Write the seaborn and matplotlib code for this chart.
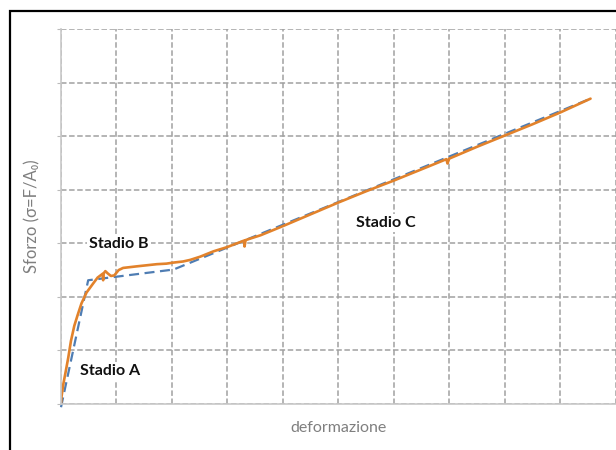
import matplotlib
matplotlib.use('Agg')
import matplotlib.pyplot as plt
from matplotlib.patches import Rectangle
import seaborn as sns

# curva sperimentale (arancione) e modello trilineare (blu tratteggiato)
misura_x = [0, 0.01, 0.04, 0.08, 0.13, 0.18, 0.24, 0.30, 0.37, 0.46, 0.58, 0.66,
            0.75, 0.76, 0.77, 0.80, 0.84, 0.90, 0.96, 1.04, 1.12, 1.37, 1.55,
            1.73, 1.90, 2.03, 2.20, 2.33, 2.51, 2.75, 3.00, 3.20, 3.30, 3.31,
            3.33, 3.60, 4.00, 4.50, 5.00, 5.50, 6.00, 6.50, 6.95, 6.97, 7.00,
            7.50, 8.00, 8.50, 9.00, 9.55]
misura_y = [0, 0.14, 0.36, 0.58, 0.86, 1.18, 1.46, 1.66, 1.88, 2.08, 2.25, 2.36,
            2.43, 2.31, 2.44, 2.48, 2.44, 2.39, 2.40, 2.50, 2.54, 2.57, 2.59,
            2.61, 2.62, 2.64, 2.66, 2.69, 2.75, 2.85, 2.93, 3.01, 3.05, 2.94,
            3.06, 3.15, 3.32, 3.54, 3.76, 3.97, 4.17, 4.38, 4.57, 4.49, 4.58,
            4.80, 5.01, 5.22, 5.44, 5.70]

modello_x = [0, 0.49, 2.03, 9.55]
modello_y = [-0.06, 2.31, 2.51, 5.70]

etichette = ['Stadio A', 'Stadio B', 'Stadio C']
etichette_x = [0.89, 1.05, 5.85]
etichette_y = [0.62, 2.99, 3.38]

sns.set_style('white')
plt.rcParams['font.family'] = ['Lato', 'DejaVu Sans']

fig = plt.figure(figsize=(6.16, 4.5), dpi=100)
ax = fig.add_axes([61 / 616, 1 - 404 / 450, 554.5 / 616, 375 / 450])

# cornice nera esterna
fig.patches.append(Rectangle((10 / 616, -0.1), 1.2, 1 - 11 / 450 + 0.1,
                             transform=fig.transFigure, fill=False,
                             edgecolor='black', linewidth=1.6))

sns.lineplot(x=modello_x, y=modello_y, ax=ax, color='#4F7DB3', linewidth=1.6,
             dashes=False, sort=False, estimator=None, clip_on=False)
ax.lines[-1].set_dashes((4.5, 2.5))
sns.lineplot(x=misura_x, y=misura_y, ax=ax, color='#E2822B', linewidth=1.9,
             sort=False, estimator=None)

for testo, tx, ty in zip(etichette, etichette_x, etichette_y):
    ax.text(tx, ty, testo, ha='center', va='center', fontsize=11.5,
            fontweight='bold', color='#111111',
            bbox=dict(facecolor='white', edgecolor='none', pad=1.5))

ax.set_xlim(0, 10)
ax.set_ylim(0, 7)
ax.set_xticks(range(0, 11))
ax.set_yticks(range(0, 8))
ax.set_xticklabels([])
ax.set_yticklabels([])
ax.tick_params(axis='y', left=True, length=3, color='#BBBBBB', width=0.8)
ax.tick_params(axis='x', bottom=False)
ax.grid(True, color='#A0A0A0', linestyle=(0, (3.6, 1.7)), linewidth=1.1)
ax.set_axisbelow(True)

for lato in ['top', 'right']:
    ax.spines[lato].set_visible(False)
for lato in ['left', 'bottom']:
    ax.spines[lato].set_color('#C8C8C8')
    ax.spines[lato].set_linewidth(1.2)

ax.set_xlabel('deformazione', fontsize=11.5, color='#7F7F7F', labelpad=5)
ax.set_ylabel('Sforzo (σ=F/A₀)', fontsize=12, color='#7F7F7F', labelpad=8)

fig.savefig('out.png', dpi=100)
